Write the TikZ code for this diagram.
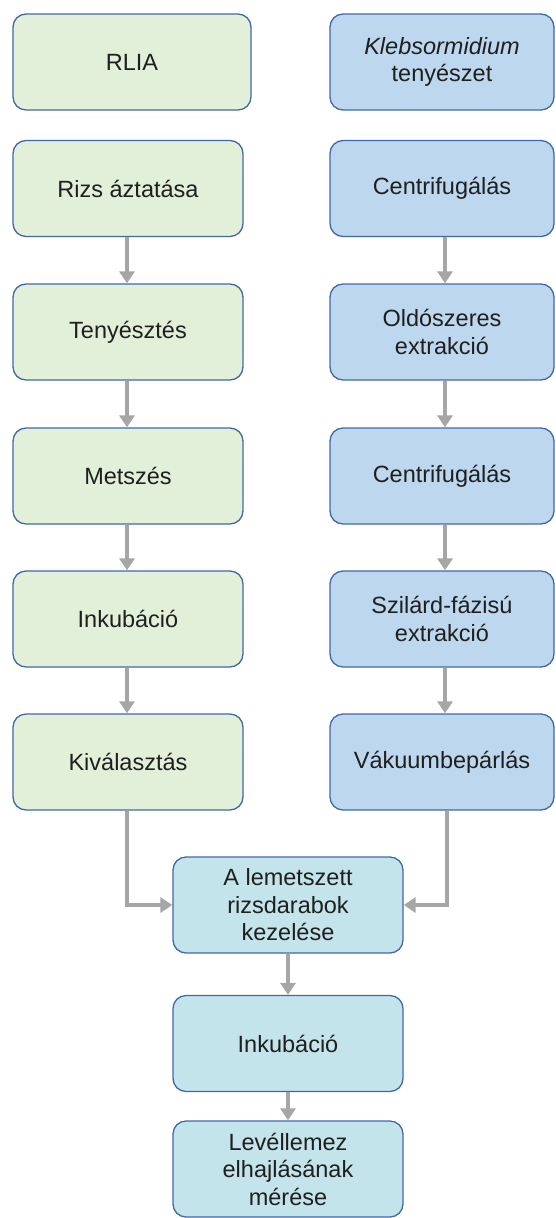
\documentclass[tikz,border=0pt]{standalone}
\usepackage{fontspec}
\setmainfont{Liberation Sans}
\usetikzlibrary{arrows.meta}
\definecolor{gfill}{HTML}{E2F0D9}
\definecolor{bfill}{HTML}{BDD7EE}
\definecolor{tfill}{HTML}{C4E4EB}
\definecolor{edge}{HTML}{4169A8}
\definecolor{arrg}{HTML}{A6A6A6}
\definecolor{txt}{HTML}{1F1F1F}
\tikzset{
  box/.style={draw=edge, line width=1.3pt, rounded corners=13pt, minimum height=96pt,
    inner sep=0pt, align=center, text=txt,
    font=\fontsize{23.5pt}{27.5pt}\selectfont},
  lbox/.style={box, fill=gfill, minimum width=230pt},
  rbox/.style={box, fill=bfill, minimum width=224pt},
  cbox/.style={box, fill=tfill, minimum width=230pt},
  arr/.style={draw=arrg, line width=4pt, -{Triangle[length=12pt,width=15pt]}},
}
\begin{document}
\begin{tikzpicture}[x=1pt,y=-1pt]
\useasboundingbox (0,0) rectangle (556,1218);
% left column
\node[lbox, minimum width=238pt] (rlia) at (132,62) {RLIA};
\node[lbox] (rizs) at (128,188.5) {Rizs áztatása};
\node[lbox] (teny) at (128,332) {Tenyésztés};
\node[lbox] (mets) at (128,476) {Metszés};
\node[lbox] (inkl) at (128,619) {Inkubáció};
\node[lbox] (kiv) at (128,762) {Kiválasztás};
% right column
\node[rbox] (kleb) at (442,62) {\textit{Klebsormidium}\\tenyészet};
\node[rbox] (cent1) at (442,188.5) {Centrifugálás};
\node[rbox] (olds) at (442,332) {Oldószeres\\extrakció};
\node[rbox] (cent2) at (442,476) {Centrifugálás};
\node[rbox] (szil) at (442,619) {Szilárd-fázisú\\extrakció};
\node[rbox] (vak) at (442,762) {Vákuumbepárlás};
% bottom column
\node[cbox] (kez) at (288,905) {A lemetszett\\rizsdarabok\\kezelése};
\node[cbox] (inkc) at (288,1043.5) {Inkubáció};
\node[cbox] (lev) at (288,1169) {Levéllemez\\elhajlásának\\mérése};
% arrows
\draw[arr] ([xshift=-1pt]rizs.south) -- ([xshift=-1pt]teny.north);
\draw[arr] ([xshift=-1pt]teny.south) -- ([xshift=-1pt]mets.north);
\draw[arr] ([xshift=-1pt]mets.south) -- ([xshift=-1pt]inkl.north);
\draw[arr] ([xshift=-1pt]inkl.south) -- ([xshift=-1pt]kiv.north);
\draw[arr] ([xshift=3pt]cent1.south) -- ([xshift=3pt]olds.north);
\draw[arr] ([xshift=3pt]olds.south) -- ([xshift=3pt]cent2.north);
\draw[arr] ([xshift=3pt]cent2.south) -- ([xshift=3pt]szil.north);
\draw[arr] ([xshift=3pt]szil.south) -- ([xshift=3pt]vak.north);
\draw[arr] ([xshift=-1pt]kiv.south) |- (kez.west);
\draw[arr] ([xshift=5pt]vak.south) |- (kez.east);
\draw[arr] (kez.south) -- (inkc.north);
\draw[arr] (inkc.south) -- (lev.north);
\end{tikzpicture}
\end{document}
